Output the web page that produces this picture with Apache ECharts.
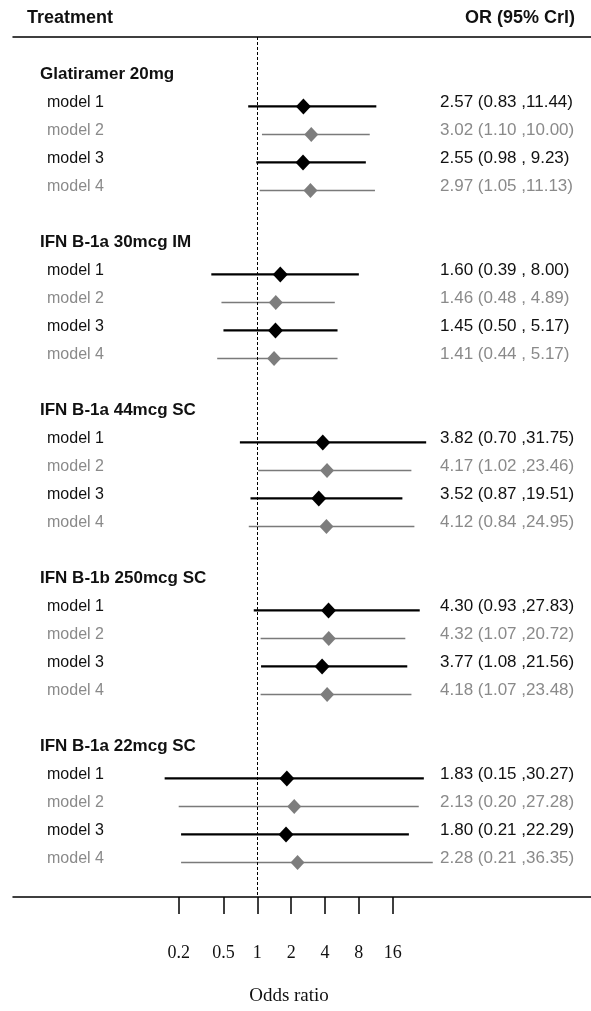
<!DOCTYPE html>
<html>
<head>
<meta charset="utf-8">
<script src="https://cdn.jsdelivr.net/npm/echarts@6/dist/echarts.min.js"></script>
<style>html,body{margin:0;padding:0;background:#fff}#c{width:591px;height:1011px}</style>
</head>
<body>
<div id="c"></div>
<script>
const groups = ['Glatiramer 20mg', 'IFN B-1a 30mcg IM', 'IFN B-1a 44mcg SC', 'IFN B-1b 250mcg SC', 'IFN B-1a 22mcg SC'];
const models = ['model 1', 'model 2', 'model 3', 'model 4'];
const orEst = [
  [2.57, 3.02, 2.55, 2.97],
  [1.60, 1.46, 1.45, 1.41],
  [3.82, 4.17, 3.52, 4.12],
  [4.30, 4.32, 3.77, 4.18],
  [1.83, 2.13, 1.80, 2.28]
];
const orLow = [
  [0.83, 1.10, 0.98, 1.05],
  [0.39, 0.48, 0.50, 0.44],
  [0.70, 1.02, 0.87, 0.84],
  [0.93, 1.07, 1.08, 1.07],
  [0.15, 0.20, 0.21, 0.21]
];
const orHigh = [
  [11.44, 10.00, 9.23, 11.13],
  [8.00, 4.89, 5.17, 5.17],
  [31.75, 23.46, 19.51, 24.95],
  [27.83, 20.72, 21.56, 23.48],
  [30.27, 27.28, 22.29, 36.35]
];
const tickValues = [0.2, 0.5, 1, 2, 4, 8, 16];
const tickLabels = ['0.2', '0.5', '1', '2', '4', '8', '16'];
const headerLeft = 'Treatment';
const headerRight = 'OR (95% Crl)';
const axisTitle = 'Odds ratio';

// ---- build rows ----
const leftLabels = {};   // row -> rich text
const rightLabels = {};  // row -> rich text
const barsDark = [], barsGrey = [], ptsDark = [], ptsGrey = [];
const MARK_OFF = 0.14;
function fmtCI(e, l, h) {
  return e.toFixed(2) + ' (' + l.toFixed(2) + ' ,' + (h < 10 ? ' ' : '') + h.toFixed(2) + ')';
}
groups.forEach((g, gi) => {
  const titleRow = 2 + 6 * gi;
  leftLabels[titleRow] = '{g|' + g + '}';
  models.forEach((m, mi) => {
    const row = titleRow + 1 + mi;
    const dark = (mi % 2 === 0);
    const sty = dark ? 'd' : 'l';
    leftLabels[row] = '{m' + sty + '|' + m + '}';
    rightLabels[row] = '{' + sty + '|' + fmtCI(orEst[gi][mi], orLow[gi][mi], orHigh[gi][mi]) + '}';
    const y = row + MARK_OFF;
    (dark ? barsDark : barsGrey).push([Math.log2(orLow[gi][mi]), Math.log2(orHigh[gi][mi]), y]);
    (dark ? ptsDark : ptsGrey).push([Math.log2(orEst[gi][mi]), y]);
  });
});
const leftRows = Object.keys(leftLabels).map(Number);
const rightRows = Object.keys(rightLabels).map(Number);

// axis geometry (log2 units)
const X_MIN = -7.217, X_MAX = 9.858;
const Y_MIN = 0.66, Y_MAX = 31.375;

const sansFont = '"Liberation Sans", Arial, sans-serif';
const serifFont = '"Liberation Serif", "Times New Roman", serif';
const DARK = '#111111', GREY_T = '#8a8a8a', GREY_L = '#7a7a7a', GREY_M = '#7d7d7d';

function barItem(color, width) {
  return function (params, api) {
    const a = api.coord([api.value(0), api.value(2)]);
    const b = api.coord([api.value(1), api.value(2)]);
    return { type: 'line', shape: { x1: a[0], y1: a[1], x2: b[0], y2: b[1] },
             style: { stroke: color, lineWidth: width } };
  };
}

const chart = echarts.init(document.getElementById('c'), null, { renderer: 'canvas' });
chart.setOption({
  animation: false,
  backgroundColor: '#ffffff',
  title: [
    { text: headerLeft, left: 22, top: 4,
      textStyle: { fontFamily: sansFont, fontSize: 18, fontWeight: 'bold', color: DARK } },
    { text: headerRight, right: 11, top: 4,
      textStyle: { fontFamily: sansFont, fontSize: 18, fontWeight: 'bold', color: DARK } }
  ],
  grid: { left: 13, right: 0, top: 37, bottom: 113 },
  xAxis: [
    {
      type: 'value', position: 'bottom', min: X_MIN, max: X_MAX,
      axisLine: { show: true, lineStyle: { color: '#000', width: 1.5 } },
      axisTick: { show: true, customValues: tickValues.map(Math.log2), length: 17,
                  lineStyle: { color: '#000', width: 1.5 } },
      axisLabel: { show: true, customValues: tickValues.map(Math.log2), margin: 47,
                   fontFamily: serifFont, fontSize: 18, color: DARK,
                   formatter: v => { const i = tickValues.findIndex(t => Math.abs(Math.log2(t) - v) < 1e-6); return i >= 0 ? tickLabels[i] : ''; } },
      splitLine: { show: false },
      name: axisTitle, nameLocation: 'middle', nameGap: 90,
      nameTextStyle: { fontFamily: serifFont, fontSize: 19, color: DARK, padding: [0, 26, 0, 0] }
    },
    {
      type: 'value', position: 'top', min: X_MIN, max: X_MAX,
      axisLine: { show: true, lineStyle: { color: '#000', width: 1.5 } },
      axisTick: { show: false }, axisLabel: { show: false }, splitLine: { show: false }
    }
  ],
  yAxis: [
    {
      type: 'value', position: 'left', inverse: true, min: Y_MIN, max: Y_MAX,
      axisLine: { show: false }, axisTick: { show: false }, splitLine: { show: false },
      axisLabel: {
        show: true, inside: true, margin: 14, customValues: leftRows,
        formatter: v => leftLabels[Math.round(v)] || '',
        rich: {
          g: { fontFamily: sansFont, fontSize: 17, fontWeight: 'bold', color: DARK, padding: [0, 0, 0, 13] },
          md: { fontFamily: sansFont, fontSize: 16, color: DARK, padding: [0, 0, 0, 20] },
          ml: { fontFamily: sansFont, fontSize: 16, color: GREY_T, padding: [0, 0, 0, 20] }
        }
      }
    },
    {
      type: 'value', position: 'right', inverse: true, min: Y_MIN, max: Y_MAX,
      axisLine: { show: false }, axisTick: { show: false }, splitLine: { show: false },
      axisLabel: {
        show: true, inside: true, margin: 151, align: 'left', customValues: rightRows,
        formatter: v => rightLabels[Math.round(v)] || '',
        rich: {
          d: { fontFamily: sansFont, fontSize: 17, color: DARK },
          l: { fontFamily: sansFont, fontSize: 17, color: GREY_T }
        }
      }
    }
  ],
  series: [
    {
      type: 'custom', name: 'CI grey', xAxisIndex: 0, yAxisIndex: 0,
      renderItem: barItem(GREY_L, 1.5), data: barsGrey, z: 3,
      encode: { x: [0, 1], y: 2 }
    },
    {
      type: 'custom', name: 'CI dark', xAxisIndex: 0, yAxisIndex: 0,
      renderItem: barItem('#000', 2.2), data: barsDark, z: 3,
      encode: { x: [0, 1], y: 2 },
      markLine: {
        silent: true, symbol: 'none', label: { show: false },
        lineStyle: { color: '#000', width: 1, type: [3, 2] },
        data: [{ xAxis: 0 }]
      }
    },
    {
      type: 'scatter', name: 'OR grey', xAxisIndex: 0, yAxisIndex: 0,
      symbol: 'diamond', symbolSize: [14, 15], itemStyle: { color: GREY_M, opacity: 1 },
      data: ptsGrey, z: 5
    },
    {
      type: 'scatter', name: 'OR dark', xAxisIndex: 0, yAxisIndex: 0,
      symbol: 'diamond', symbolSize: [15, 16], itemStyle: { color: '#000', opacity: 1 },
      data: ptsDark, z: 5
    }
  ]
});
</script>
</body>
</html>
